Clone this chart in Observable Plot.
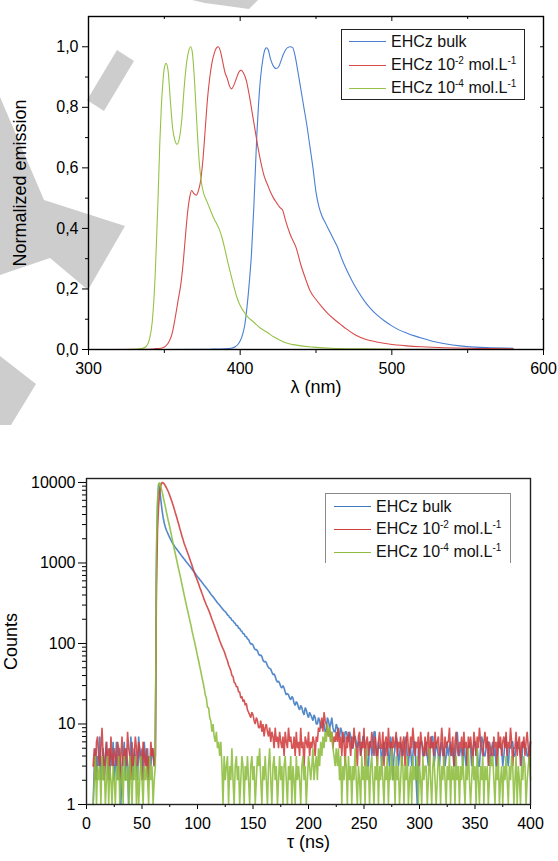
<!DOCTYPE html>
<html><head><meta charset="utf-8">
<script src="https://cdn.jsdelivr.net/npm/d3@7"></script>
<script src="https://cdn.jsdelivr.net/npm/@observablehq/plot@0.6"></script>
<style>
html,body{margin:0;padding:0;background:#fff;}
#page{position:relative;width:558px;height:861px;overflow:hidden;font-family:"Liberation Sans",Arial,sans-serif;background:#fff;}
.wm{position:absolute;left:0;top:0;width:558px;height:861px;background:#cdcdcd;}
#top{position:absolute;left:0;top:0;}
#bottom{position:absolute;left:0;top:430px;}
.lg-box{position:absolute;box-sizing:border-box;}
.lg-row{position:absolute;height:16px;line-height:16px;font-size:16px;white-space:nowrap;color:#111;}
.lg-sw{position:absolute;height:1px;}
.lg-row sup{font-size:10px;line-height:0;vertical-align:6px;}
g[aria-label="x-axis label"] text, g[aria-label="y-axis label"] text{font-size:18px;}
</style></head>
<body><div id="page">
<div class="wm" style="clip-path:polygon(192px 0,258px 0,249px 9px,205px 3px)"></div>
<div class="wm" style="clip-path:polygon(117px 50px,134px 61px,104px 111px,87px 100px)"></div>
<div class="wm" style="clip-path:polygon(0 97px,44px 200px,125px 226px,88px 290px,50px 258px,0 275px)"></div>
<div class="wm" style="clip-path:polygon(0 356px,36px 384px,11px 425px,0 425px)"></div>
<div id="top"></div><div id="bottom"></div></div>
<script>
// ---------- Data: emission spectra [wavelength nm, normalized emission] ----------
const seriesNames = ["EHCz bulk", "EHCz 10<sup>-2</sup> mol.L<sup>-1</sup>", "EHCz 10<sup>-4</sup> mol.L<sup>-1</sup>"];

const bulkSpectrum = [[315,0],[350,0],[380,0.001],[390,0.002],[394,0.004],[397,0.01],[399,0.02],[401,0.04],[403,0.08],[404.5,0.14],[406,0.22],[407.5,0.32],[409,0.47],[410,0.59],[411,0.71],[412,0.8],[413.5,0.9],[415,0.96],[416.3,0.99],[417.3,0.997],[418.5,0.99],[420,0.96],[421.5,0.94],[423.7,0.928],[425.5,0.935],[427,0.955],[428.5,0.975],[430,0.99],[431.5,0.998],[433,1.0],[434.5,0.998],[436,0.975],[438,0.92],[440,0.86],[442,0.8],[444,0.74],[446,0.67],[448,0.6],[450,0.52],[452,0.47],[454,0.44],[456,0.42],[458,0.4],[461,0.37],[464,0.34],[467,0.3],[470,0.265],[474,0.225],[478,0.19],[482,0.16],[486,0.135],[490,0.115],[495,0.095],[500,0.078],[505,0.064],[510,0.054],[515,0.045],[520,0.037],[525,0.03],[530,0.024],[536,0.018],[545,0.012],[555,0.008],[565,0.006],[580,0.004]];

const conc2Spectrum = [[315,0],[340,0.001],[345,0.003],[349,0.006],[351,0.012],[353,0.025],[355,0.05],[357,0.1],[359,0.16],[361,0.22],[362.5,0.29],[364,0.38],[365.5,0.46],[367,0.51],[368,0.525],[369.5,0.515],[371,0.51],[372.5,0.525],[374,0.56],[375.5,0.63],[377,0.73],[378.5,0.83],[380,0.9],[381.5,0.95],[383,0.98],[384.5,0.997],[385.5,1.0],[387,0.985],[388.5,0.95],[390,0.915],[391.5,0.895],[393,0.87],[394.3,0.861],[396,0.875],[397.5,0.895],[399,0.915],[400.6,0.923],[402,0.915],[404,0.89],[406,0.84],[408,0.78],[410,0.72],[412,0.66],[414,0.61],[416,0.57],[418,0.545],[420,0.52],[422,0.5],[424,0.485],[426,0.47],[428,0.46],[430,0.425],[433,0.38],[437,0.335],[440,0.28],[443,0.235],[446,0.195],[450,0.165],[454,0.14],[458,0.118],[462,0.1],[466,0.084],[470,0.068],[476,0.048],[482,0.035],[490,0.025],[498,0.018],[510,0.012],[520,0.009],[535,0.006],[550,0.004],[565,0.003],[580,0.002]];

const conc4Spectrum = [[315,0],[330,0.001],[335,0.003],[338,0.01],[340,0.03],[342,0.09],[344,0.25],[345,0.38],[346,0.52],[347,0.68],[348,0.8],[349,0.88],[350,0.93],[351.2,0.945],[352.5,0.92],[354,0.82],[355.5,0.73],[357,0.69],[358.4,0.678],[360,0.7],[361.5,0.76],[363,0.86],[364.5,0.94],[366,0.985],[367.4,1.0],[368.5,0.98],[370,0.88],[371.5,0.74],[373,0.62],[374.5,0.55],[376,0.515],[378,0.49],[380,0.465],[382,0.44],[384,0.42],[386,0.4],[388,0.37],[390,0.33],[392,0.285],[394,0.245],[396,0.205],[398,0.17],[400,0.145],[402,0.128],[405,0.108],[409,0.09],[413,0.072],[418,0.056],[422,0.042],[426,0.031],[430,0.022],[435,0.016],[440,0.012],[448,0.008],[460,0.004],[480,0.002],[500,0.001],[540,0]];

const nmMajorTicks = [300, 400, 500, 600];
const nmMinorTicks = [350, 450, 550];
const emMajorTicks = [0, 0.2, 0.4, 0.6, 0.8, 1.0];
const emMinorTicks = [0.1, 0.3, 0.5, 0.7, 0.9];

// ---------- Data: decay counts, one value per 1 ns channel from 6 ns ----------
const tauStart = 6, tauStep = 1;
const bulkCounts = [
1,3,5,2,4,3,7,2,3,5,2,4,6,3,2,5,4,3,6,2,
3,6,2,4,5,1,3,4,6,2,5,3,1,4,7,3,2,5,4,3,
2,7,4,3,5,2,6,4,3,5,2,4,3,5,4,3,4,900,5200,9500,
8000,6000,4600,3700,3150,2800,2550,2370,2200,2060,1930,1820,1720,1640,1560,1500,1440,1380,1320,1265,
1210,1165,1120,1075,1030,990,950,915,880,840,800,770,740,705,675,650,625,600,575,553,
530,510,490,470,450,430,410,395,380,365,350,335,320,309,298,286,275,265,255,248,
240,226,222,210,207,194,192,181,178,167,167,155,154,144,142,132,132,122,122,114,
112,104,98,99,96,88,84,84,81,74,71,72,69,62,59,60,58,53,50,49,
48,44,41,42,39,35,33,34,32,29,28,30,28,25,23,24,23,21,20,22,
21,18,17,19,18,16,15,17,16,14,13,16,15,13,12,14,13,12,11,13,
12,10,10,12,11,9,9,11,10,8,8,12,11,9,10,12,9,8,8,10,
9,7,7,9,8,6,6,8,8,7,6,8,7,5,5,7,7,6,5,6,
6,4,5,7,7,5,5,3,3,6,6,4,5,8,8,4,4,6,5,5,
3,5,6,4,5,6,4,3,7,5,2,4,5,7,6,3,4,6,5,4,
5,6,7,4,3,5,5,3,4,6,6,2,1,5,5,6,6,4,4,5,
6,4,3,5,5,7,7,3,4,6,5,4,3,5,6,4,5,3,4,6,
4,5,6,4,5,3,3,6,8,5,4,5,5,3,6,4,3,5,5,6,
5,3,4,6,6,4,5,3,3,5,7,6,4,4,5,6,6,3,4,5,
6,4,5,3,3,6,6,5,5,3,4,6,7,4,3,5,5,6,6,4,
4,5,6,5,5,4,3,6,6,5,5,4,4,5,6];
const conc2Counts = [
3,5,2,6,7,4,3,5,9,4,2,4,6,3,5,2,7,4,3,5,
4,3,6,5,2,4,7,3,4,5,3,8,5,4,2,6,3,4,7,5,
3,6,5,4,2,6,4,3,5,2,4,3,6,4,5,3,4,500,2600,5200,
7600,9200,10000,9900,9600,9100,8600,8050,7500,6900,6300,5750,5200,4700,4200,3800,3400,3050,2700,2420,
2150,1950,1750,1600,1470,1350,1240,1130,1030,940,850,770,700,650,600,550,500,460,420,385,
350,325,300,280,260,240,220,200,185,170,155,142,130,119,108,100,92,86,80,73,
66,61,54,50,46,40,39,33,32,29,29,25,25,21,22,19,20,17,18,15,
14,13,12,14,13,11,10,12,11,9,9,11,8,10,7,9,10,8,7,9,
6,8,7,5,9,6,7,5,8,6,5,7,4,8,6,5,9,6,7,5,
5,7,4,8,5,6,4,9,5,6,3,7,6,5,8,4,6,5,7,6,
4,7,6,9,8,10,12,8,14,11,10,8,7,9,6,8,5,7,6,8,
6,9,5,7,4,8,6,3,7,5,8,6,4,7,5,9,6,5,3,7,
8,4,6,5,9,3,6,7,4,6,5,8,6,4,7,5,3,6,8,5,
5,8,3,6,7,4,9,5,6,4,7,5,6,8,4,6,5,7,3,6,
7,3,6,8,5,4,7,5,9,6,4,6,5,7,3,8,6,5,4,7,
4,6,8,3,7,5,6,4,8,5,6,7,4,5,9,6,3,7,5,6,
6,9,4,5,7,3,6,8,5,4,6,5,7,4,8,5,6,3,7,5,
7,5,3,8,6,4,7,5,9,6,5,4,6,8,5,7,3,6,5,4,
4,7,5,6,3,8,5,7,4,6,7,5,8,4,6,5,9,6,3,5,
5,8,4,6,7,3,6,5,7,4,6,8,5,3,6];
const conc4Counts = [
1,2,4,1,3,2,3,1,4,2,3,1,2,4,1,3,2,1,3,2,
1,3,2,4,1,2,3,1,4,2,2,3,1,4,2,1,3,2,4,1,
3,1,2,4,2,1,3,2,3,2,1,4,2,3,1,2,3,1500,6000,9600,
10000,8800,7800,6700,5800,5000,4300,3700,3200,2800,2400,2050,1750,1500,1300,1130,970,840,730,630,
540,465,400,345,300,260,225,195,170,145,125,110,95,82,70,61,52,45,38,33,
28,23,21,16,16,12,11,8,10,7,6,8,5,6,4,6,3,1,4,2,
3,4,1,3,2,5,2,1,3,4,2,3,1,2,4,3,1,3,2,4,
2,1,3,4,2,3,1,2,4,3,5,2,1,3,2,4,2,1,3,5,
2,1,3,4,2,3,1,2,4,2,3,1,3,4,2,1,3,2,4,1,
3,2,1,4,2,3,2,1,3,4,2,3,1,2,4,3,2,3,5,2,
3,4,2,5,3,6,4,7,5,8,6,10,7,9,6,8,5,4,3,5,
3,5,2,4,1,3,2,4,3,1,4,2,3,1,3,2,5,2,1,3,
2,1,4,2,3,1,5,2,3,1,3,4,2,1,3,2,4,1,3,2,
4,2,1,3,2,4,1,3,2,5,2,3,1,4,2,3,1,2,4,3,
1,3,2,4,1,2,3,1,4,2,3,2,4,1,3,2,1,4,2,3,
3,1,2,5,2,1,3,4,2,1,2,4,3,1,3,2,4,2,1,3,
2,4,1,3,2,3,1,4,2,3,1,3,2,4,2,1,3,2,5,2,
1,2,4,2,3,1,5,2,1,3,2,4,1,3,2,3,1,2,4,3,
4,2,1,3,2,4,1,2,3,1,3,2,4,2,1,3,2,4,3,1,
2,4,1,3,2,1,3,2,4,3,1,2,3,4,2];

const tauMajorTicks = [0, 50, 100, 150, 200, 250, 300, 350, 400];
const tauMinorTicks = [25, 75, 125, 175, 225, 275, 325, 375];
const countMajorTicks = [1, 10, 100, 1000, 10000];
const countMinorTicks = [2,3,4,5,6,7,8,9,20,30,40,50,60,70,80,90,200,300,400,500,600,700,800,900,2000,3000,4000,5000,6000,7000,8000,9000];

// ---------- Styles ----------
const topColors = ["#4a7fd2", "#d94a4a", "#96c346"];
const botColors = ["#3b79c1", "#d03c3c", "#8cbd3c"];
const font = "'Liberation Sans', Arial, sans-serif";
const blank = () => "";

// ---------- Top chart ----------
const spectra = [bulkSpectrum, conc2Spectrum, conc4Spectrum];
const topPlot = Plot.plot({
  width: 558, height: 430,
  marginTop: 16, marginRight: 15, marginBottom: 81, marginLeft: 88,
  style: {fontFamily: font, fontSize: "16px", color: "#000", background: "transparent"},
  x: {domain: [300, 600]},
  y: {domain: [0, 1.1]},
  marks: [
    ...spectra.map((s, i) => Plot.line(s, {x: d => d[0], y: d => d[1], stroke: topColors[i], strokeWidth: 1.1, curve: "monotone-x"})),
    Plot.axisX({ticks: nmMajorTicks, tickSize: 6, tickPadding: 7, tickFormat: d => String(d), label: "λ (nm)", labelAnchor: "center", labelOffset: 43, labelArrow: "none"}),
    Plot.axisX({ticks: nmMinorTicks, tickSize: 4, tickFormat: blank, label: null}),
    Plot.axisX({anchor: "top", ticks: nmMajorTicks, tickSize: -4, tickFormat: blank, label: null}),
    Plot.axisX({anchor: "top", ticks: nmMinorTicks, tickSize: -2, tickFormat: blank, label: null}),
    Plot.axisY({ticks: emMajorTicks, tickSize: 6, tickPadding: 4, tickFormat: d => d.toFixed(1).replace(".", ","), label: "Normalized emission", labelAnchor: "center", labelOffset: 75, labelArrow: "none"}),
    Plot.axisY({ticks: emMinorTicks, tickSize: 3, tickFormat: blank, label: null}),
    Plot.axisY({anchor: "right", ticks: emMajorTicks, tickSize: -4, tickFormat: blank, label: null}),
    Plot.axisY({anchor: "right", ticks: emMinorTicks, tickSize: -2, tickFormat: blank, label: null}),
    Plot.frame({stroke: "#000", strokeWidth: 1.4})
  ]
});
document.getElementById("top").appendChild(topPlot);

// ---------- Bottom chart ----------
const decays = [bulkCounts, conc2Counts, conc4Counts].map(arr => arr.map((c, i) => ({t: tauStart + i * tauStep, c})));
const botPlot = Plot.plot({
  width: 558, height: 431,
  marginTop: 48, marginRight: 28, marginBottom: 57, marginLeft: 86,
  style: {fontFamily: font, fontSize: "16px", color: "#000", background: "transparent"},
  x: {domain: [0, 400]},
  y: {type: "log", domain: [1, 11200]},
  marks: [
    ...decays.map((s, i) => Plot.line(s, {x: "t", y: "c", stroke: botColors[i], strokeWidth: 1.6, strokeOpacity: 0.88, strokeLinejoin: "bevel"})),
    Plot.axisX({ticks: tauMajorTicks, tickSize: 5, tickPadding: 8, tickFormat: d => String(d), label: "τ (ns)", labelAnchor: "center", labelOffset: 43, labelArrow: "none"}),
    Plot.axisX({ticks: tauMinorTicks, tickSize: 3, tickFormat: blank, label: null}),
    Plot.axisY({ticks: countMajorTicks, tickSize: 8, tickPadding: 3, tickFormat: d => String(d), label: "Counts", labelAnchor: "center", labelOffset: 82, labelArrow: "none"}),
    Plot.axisY({ticks: countMinorTicks, tickSize: 4, tickFormat: blank, label: null}),
    Plot.frame({stroke: "#222", strokeWidth: 1.4})
  ]
});
document.getElementById("bottom").appendChild(botPlot);

// ---------- Legends (HTML overlay) ----------
function legend(colors, box, rowsY, sw1, sw2, textX, borderCss) {
  const page = document.getElementById("page");
  const b = document.createElement("div");
  b.className = "lg-box";
  Object.assign(b.style, {left: box[0] + "px", top: box[1] + "px", width: box[2] + "px", height: box[3] + "px", background: "#fff"}, borderCss);
  page.appendChild(b);
  seriesNames.forEach((name, i) => {
    const sw = document.createElement("div");
    sw.className = "lg-sw";
    Object.assign(sw.style, {left: sw1 + "px", width: (sw2 - sw1) + "px", top: Math.round(rowsY[i] - 0.5) + "px", background: colors[i]});
    page.appendChild(sw);
    const r = document.createElement("div");
    r.className = "lg-row";
    r.innerHTML = name;
    Object.assign(r.style, {left: textX + "px", top: (rowsY[i] - 8) + "px"});
    page.appendChild(r);
  });
}
legend(topColors, [340.5, 29, 184, 71], [41.7, 65, 88.3], 349, 386, 391, {border: "1px solid #222"});
legend(botColors, [324.5, 493, 186, 70], [506.7, 529.3, 552.3], 334, 371, 376, {borderTop: "1.5px solid #8a8a8a", borderLeft: "1.5px solid #8a8a8a", borderRight: "1.5px solid #8a8a8a"});
</script></body></html>
